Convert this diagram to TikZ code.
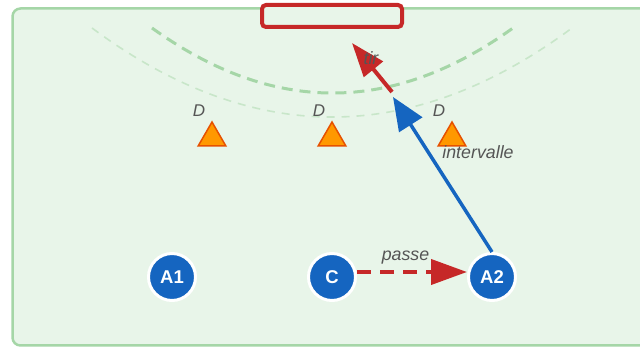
\documentclass[tikz,border=0pt]{standalone}
\usepackage{fontspec}
\setmainfont{Liberation Sans}
\usetikzlibrary{arrows.meta,shapes.geometric}
\definecolor{fieldbg}{HTML}{E8F5E9}
\definecolor{fieldline}{HTML}{A5D6A7}
\definecolor{faintline}{HTML}{C8E6C9}
\definecolor{goalred}{HTML}{C62828}
\definecolor{playerblue}{HTML}{1565C0}
\definecolor{conefill}{HTML}{FF9800}
\definecolor{coneline}{HTML}{E65100}
\definecolor{labelgray}{HTML}{555555}
\tikzset{
  field/.style={draw=fieldline, fill=fieldbg, line width=2.5pt, rounded corners=8pt},
  thickarc/.style={draw=fieldline, line width=3pt, dash pattern=on 11pt off 7pt},
  thinarc/.style={draw=faintline, line width=1.6pt, dash pattern=on 8pt off 7pt},
  goalbox/.style={draw=goalred, fill=fieldbg, line width=4pt, rounded corners=4pt,
    minimum width=140pt, minimum height=22pt, inner sep=0pt},
  cone/.style={regular polygon, regular polygon sides=3, draw=coneline, fill=conefill,
    line width=1.5pt, minimum size=32pt, inner sep=0pt},
  dlabel/.style={text=labelgray, font=\fontsize{17}{17}\selectfont\itshape, inner sep=0pt},
  alabel/.style={text=labelgray, font=\fontsize{17.8}{17.8}\selectfont\itshape, inner sep=0pt},
  player/.style={circle, fill=playerblue, draw=white, line width=3pt, minimum size=47pt,
    inner sep=0pt, text=white, font=\fontsize{18.5}{18.5}\selectfont\bfseries},
  passarrow/.style={draw=goalred, line width=4pt, dash pattern=on 14pt off 9pt,
    -{Triangle[length=36pt,width=25pt,fill=goalred]}},
  runarrow/.style={draw=playerblue, line width=3.5pt,
    -{Triangle[length=33pt,width=27pt]}},
  shotarrow/.style={draw=goalred, line width=4pt,
    -{Triangle[length=34pt,width=24pt]}},
}
\begin{document}
\begin{tikzpicture}[x=1pt,y=-1pt]
\useasboundingbox (0,0) rectangle (640,347);
\clip (0,0) rectangle (640,347);
\path[field] (12.5,8.5) rectangle (690,345.5);
% arcs
\path[thinarc] (92,28) .. controls (252,146.7) and (412,146.7) .. (572,28);
\path[thickarc] (152,28) .. controls (272.7,114.7) and (392.3,114.7) .. (513,28);
% goal
\node[goalbox] (goal) at (332,16) {};
% cones
\node[cone] (D1) at (212,138) {};
\node[cone] (D2) at (332,138) {};
\node[cone] (D3) at (452,138) {};
\node[dlabel] (D1l) at (199,111) {D};
\node[dlabel] (D2l) at (319,111) {D};
\node[dlabel] (D3l) at (439,111) {D};
% players
\node[player] (A1) at (172,277) {A1};
\node[player] (C) at (332,277) {C};
\node[player] (A2) at (492,277) {A2};
% arrows
\coordinate (runtip) at (393,97);
\coordinate (shotstart) at (392,92);
\coordinate (shottip) at (352,43);
\draw[runarrow] (A2.north) -- (runtip);
\draw[shotarrow] (shotstart) -- (shottip);
\draw[passarrow] ([yshift=5pt]C.east) -- ([yshift=5pt]A2.west);
% labels
\node[alabel] (tirl) at (371,58) {tir};
\node[alabel] (intl) at (478,152) {intervalle};
\node[alabel] (passl) at (405.5,258) {passe};
\end{tikzpicture}
\end{document}
